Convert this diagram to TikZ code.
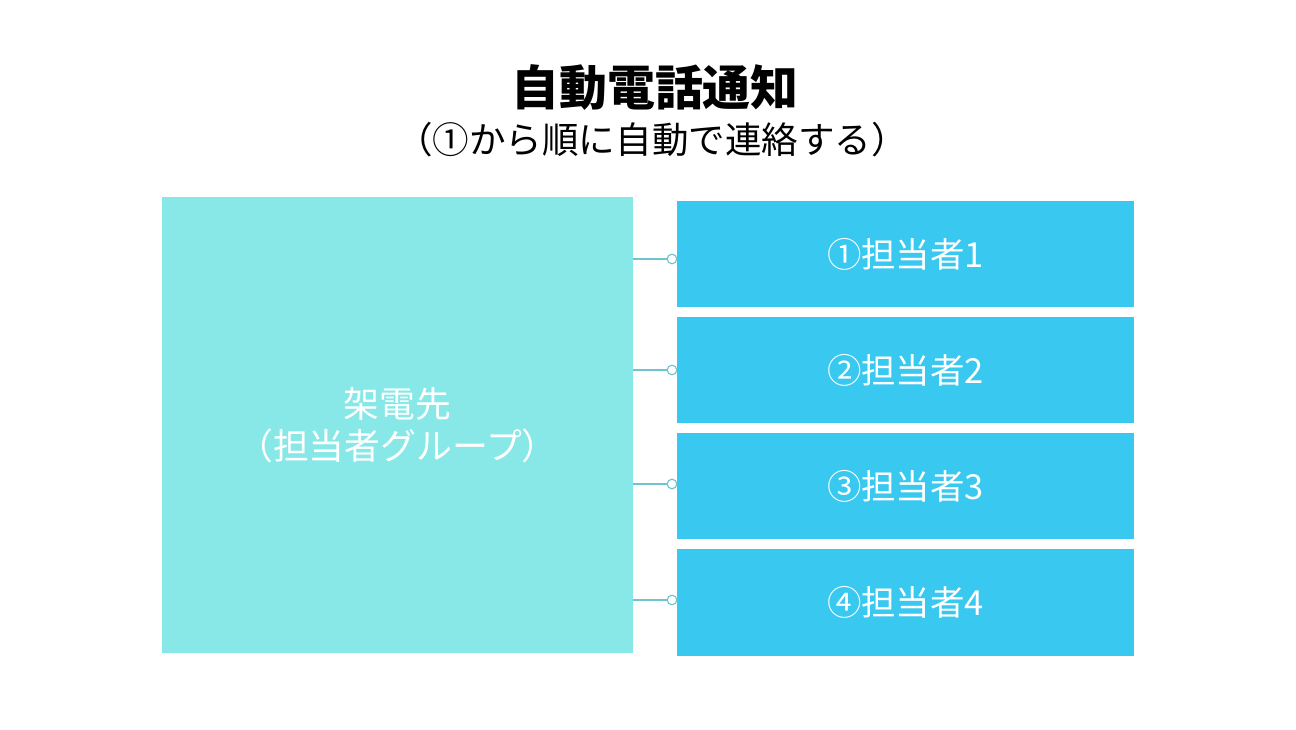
\documentclass[tikz,border=0pt]{standalone}
\usepackage{fontspec}
\setmainfont{Noto Sans CJK JP}
\usetikzlibrary{positioning}
\definecolor{grouppale}{RGB}{136,232,232}
\definecolor{memberblue}{RGB}{56,200,240}
\definecolor{linkline}{RGB}{110,196,208}
\tikzset{
  groupbox/.style={fill=grouppale, text=white, align=center, minimum width=11.775cm, minimum height=11.4cm, inner sep=0pt, font=\fontsize{25.5}{30}\selectfont},
  memberbox/.style={fill=memberblue, text=white, align=center, minimum width=11.425cm, minimum height=2.65cm, inner sep=0pt, font=\fontsize{24.5}{28}\selectfont},
  hook/.style={circle, draw=linkline, fill=white, line width=0.8pt, inner sep=0pt, minimum size=0.24cm},
}
\begin{document}
\begin{tikzpicture}[x=0.025cm, y=-0.025cm]
\useasboundingbox[fill=white] (0,0) rectangle (1296,730);
\node[font=\fontsize{34}{38}\selectfont\bfseries] (title) at (655,88) {自動電話通知};
\node[font=\fontsize{26}{30}\selectfont] (sub) at (652,140) {（①から順に自動で連絡する）};
\node[groupbox] (group) at (397.5,425) {架電先\\（担当者グループ）};
\node[memberbox] (m1) at (905.5,254) {①担当者1};
\node[memberbox] (m2) at (905.5,370) {②担当者2};
\node[memberbox] (m3) at (905.5,486) {③担当者3};
\node[memberbox] (m4) at (905.5,602.5) {④担当者4};
\node[hook] (h1) at (672,259) {};
\node[hook] (h2) at (672,370) {};
\node[hook] (h3) at (672,484) {};
\node[hook] (h4) at (672,600) {};
\draw[linkline, line width=0.8pt] (group.east |- h1) -- (h1);
\draw[linkline, line width=0.8pt] (group.east |- h2) -- (h2);
\draw[linkline, line width=0.8pt] (group.east |- h3) -- (h3);
\draw[linkline, line width=0.8pt] (group.east |- h4) -- (h4);
\end{tikzpicture}
\end{document}
